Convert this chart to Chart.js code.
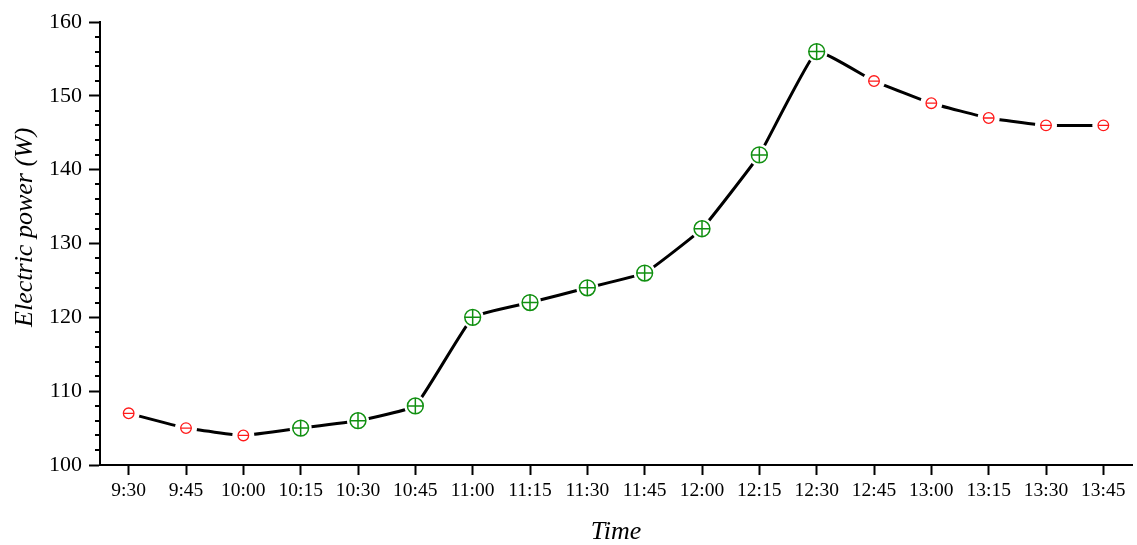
<!DOCTYPE html>
<html>
<head>
<meta charset="utf-8">
<script src="https://cdn.jsdelivr.net/npm/chart.js@4/dist/chart.umd.min.js"></script>
<style>
  html, body { margin: 0; padding: 0; background: #fff; }
  #wrap { width: 1137px; height: 545px; }
</style>
</head>
<body>
<div id="wrap"><canvas id="c" width="1137" height="545"></canvas></div>
<script>
// Sampling times
const times = ['9:30','9:45','10:00','10:15','10:30','10:45','11:00','11:15','11:30',
               '11:45','12:00','12:15','12:30','12:45','13:00','13:15','13:30','13:45'];
// Electric power in watts
const power = [107, 105, 104, 105, 106, 108, 120, 122, 124,
               126, 132, 142, 156, 152, 149, 147, 146, 146];
// Marker kind per sample: 'up' = rising, 'down' = falling / steady
const trend = ['down','down','down','up','up','up','up','up','up',
               'up','up','up','up','down','down','down','down','down'];
// Y axis ticks
const yMajorTicks = [100, 110, 120, 130, 140, 150, 160];
const yMinorStep = 2;

const RED = '#ff1a1a';
const GREEN = '#119011';

const downValues = power.map((v, i) => trend[i] === 'down' ? v : null);
const upValues = power.map((v, i) => trend[i] === 'up' ? v : null);

// Minor ticks on the y axis
const minorTicks = {
  id: 'minorTicks',
  afterDraw(chart) {
    const y = chart.scales.y;
    const ctx = chart.ctx;
    ctx.save();
    ctx.strokeStyle = '#000';
    ctx.lineWidth = 2;
    const min = yMajorTicks[0], max = yMajorTicks[yMajorTicks.length - 1];
    for (let v = min; v <= max; v += yMinorStep) {
      if (yMajorTicks.includes(v)) continue;
      const p = Math.round(y.getPixelForValue(v));
      ctx.beginPath();
      ctx.moveTo(y.right - 5, p);
      ctx.lineTo(y.right, p);
      ctx.stroke();
    }
    ctx.restore();
  }
};

// Marker layer: a point-only dataset
function markerLayer(label, data, style, radius, color, width, order, fill) {
  return {
    label, data, order,
    showLine: false,
    pointStyle: style,
    pointRadius: radius,
    pointBorderColor: color,
    pointBorderWidth: width,
    pointBackgroundColor: fill
  };
}

const serif = 'Liberation Serif';

new Chart(document.getElementById('c'), {
  type: 'line',
  data: {
    labels: times,
    datasets: [
      markerLayer('up-cross', upValues, 'cross', 7.9, GREEN, 1.5, 1, 'transparent'),
      markerLayer('up-ring', upValues, 'circle', 7.9, GREEN, 1.5, 2, '#fff'),
      markerLayer('down-bar', downValues, 'line', 5.3, RED, 1.3, 3, 'transparent'),
      markerLayer('down-ring', downValues, 'circle', 5.3, RED, 1.3, 4, '#fff'),
      // white discs that leave a small gap in the line around every marker
      markerLayer('gap', power, 'circle', 11, '#fff', 0, 5, '#fff'),
      {
        label: 'power',
        data: power,
        borderColor: '#000',
        borderWidth: 3,
        tension: 0.1,
        pointRadius: 0,
        order: 6
      }
    ]
  },
  options: {
    responsive: false,
    animation: false,
    events: [],
    layout: { autoPadding: false, padding: { top: 22, right: 5, left: 0, bottom: 0 } },
    plugins: { legend: { display: false }, tooltip: { enabled: false } },
    scales: {
      x: {
        type: 'category',
        offset: true,
        afterFit(s) { s.height = 80; s.paddingLeft = 0; s.paddingRight = 0; },
        grid: { display: true, drawOnChartArea: false, drawTicks: true, tickLength: 10, tickWidth: 2, tickColor: '#000', offset: false },
        border: { display: true, color: '#000', width: 2 },
        ticks: { color: '#000', font: { family: serif, size: 19.5 }, padding: 4, maxRotation: 0, autoSkip: false },
        title: { display: true, text: 'Time', color: '#000', font: { family: serif, size: 26, style: 'italic', lineHeight: 1 }, padding: { top: 0, bottom: 0 } }
      },
      y: {
        min: yMajorTicks[0],
        max: yMajorTicks[yMajorTicks.length - 1],
        afterFit(s) { s.width = 100; },
        afterBuildTicks(s) { s.ticks = yMajorTicks.map(v => ({ value: v })); },
        grid: { display: true, drawOnChartArea: false, drawTicks: true, tickLength: 11, tickWidth: 2, tickColor: '#000' },
        border: { display: true, color: '#000', width: 2 },
        ticks: { color: '#000', font: { family: serif, size: 22 }, padding: 7 },
        title: { display: true, text: '     Electric power (W)', color: '#000', font: { family: serif, size: 26, style: 'italic', lineHeight: 1 }, padding: { top: 12, bottom: 0 } }
      }
    }
  },
  plugins: [minorTicks]
});
</script>
</body>
</html>
